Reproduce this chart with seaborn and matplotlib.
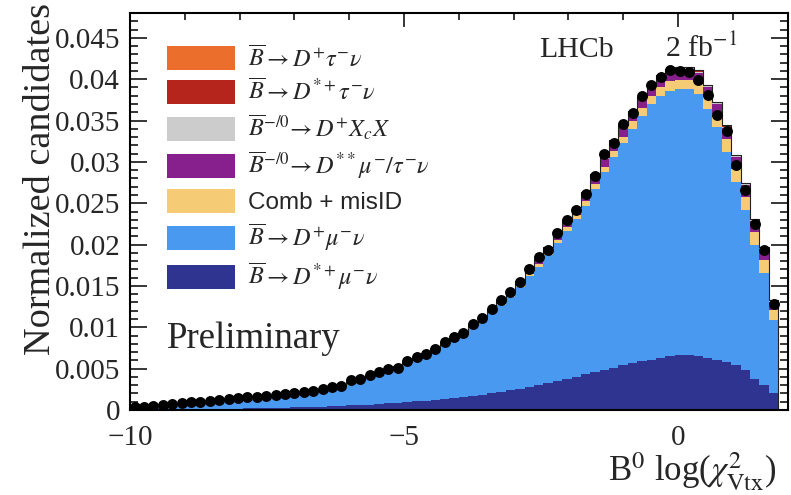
import numpy as np
import pandas as pd
import matplotlib
matplotlib.use("Agg")
import matplotlib.pyplot as plt
from matplotlib.patches import Patch
from matplotlib.ticker import MultipleLocator, FuncFormatter
import seaborn as sns

# Binning of B0 log(chi2_vtx): 70 bins from -10 to 2
x_low, x_high, n_bins = -10.0, 2.0, 70

# Normalized data yield per bin
data = [0.00033, 0.00033, 0.00048, 0.00060, 0.00069, 0.00081, 0.00093, 0.00100, 0.00109, 0.00121,
        0.00133, 0.00141, 0.00153, 0.00161, 0.00173, 0.00181, 0.00193, 0.00202, 0.00221, 0.00233,
        0.00250, 0.00274, 0.00290, 0.00362, 0.00371, 0.00423, 0.00463, 0.00492, 0.00504, 0.00595,
        0.00636, 0.00676, 0.00737, 0.00818, 0.00878, 0.00930, 0.01039, 0.01115, 0.01216, 0.01328,
        0.01421, 0.01542, 0.01699, 0.01844, 0.01932, 0.02144, 0.02295, 0.02424, 0.02609, 0.02832,
        0.03095, 0.03231, 0.03454, 0.03587, 0.03792, 0.03925, 0.04022, 0.04106, 0.04094, 0.04082,
        0.03985, 0.03804, 0.03563, 0.03376, 0.02965, 0.02665, 0.02252, 0.01932, 0.01277, 0.0]

# Fit components, bottom of the stack first
d_star_mu = [0.00003, 0.00004, 0.00005, 0.00006, 0.00007, 0.00008, 0.00010, 0.00011, 0.00012, 0.00014,
             0.00015, 0.00017, 0.00019, 0.00021, 0.00023, 0.00025, 0.00028, 0.00031, 0.00034, 0.00037,
             0.00041, 0.00045, 0.00050, 0.00055, 0.00060, 0.00066, 0.00072, 0.00079, 0.00086, 0.00094,
             0.00103, 0.00112, 0.00122, 0.00133, 0.00145, 0.00158, 0.00172, 0.00187, 0.00203, 0.00220,
             0.00238, 0.00258, 0.00280, 0.00303, 0.00328, 0.00352, 0.00378, 0.00403, 0.00430, 0.00455,
             0.00483, 0.00510, 0.00543, 0.00570, 0.00590, 0.00610, 0.00630, 0.00650, 0.00664, 0.00664,
             0.00650, 0.00630, 0.00604, 0.00575, 0.00543, 0.00480, 0.00380, 0.00300, 0.00200, 0.0]

d_mu = [0.00029, 0.00030, 0.00039, 0.00049, 0.00058, 0.00069, 0.00077, 0.00086, 0.00095, 0.00102,
        0.00112, 0.00119, 0.00127, 0.00135, 0.00142, 0.00151, 0.00158, 0.00167, 0.00177, 0.00189,
        0.00201, 0.00216, 0.00236, 0.00267, 0.00300, 0.00333, 0.00365, 0.00390, 0.00423, 0.00461,
        0.00506, 0.00546, 0.00593, 0.00646, 0.00696, 0.00754, 0.00818, 0.00891, 0.00967, 0.01047,
        0.01132, 0.01226, 0.01335, 0.01432, 0.01545, 0.01663, 0.01782, 0.01902, 0.02040, 0.02220,
        0.02392, 0.02550, 0.02682, 0.02825, 0.02965, 0.03085, 0.03165, 0.03213, 0.03215, 0.03214,
        0.03176, 0.03005, 0.02821, 0.02550, 0.02217, 0.01939, 0.01612, 0.01355, 0.00888, 0.0]

comb_misid = [0.4e-5, 0.7e-5, 0.7e-5, 0.7e-5, 1.1e-5, 1.1e-5, 1.4e-5, 1.4e-5, 1.4e-5, 1.8e-5,
              1.8e-5, 2.2e-5, 2.2e-5, 2.2e-5, 2.5e-5, 2.5e-5, 2.9e-5, 2.9e-5, 3.2e-5, 3.2e-5,
              3.6e-5, 4.0e-5, 4.3e-5, 4.7e-5, 5.4e-5, 5.8e-5, 6.5e-5, 6.8e-5, 7.6e-5, 8.3e-5,
              9.0e-5, 9.7e-5, 10.4e-5, 11.5e-5, 12.2e-5, 13.3e-5, 14.4e-5, 16.2e-5, 18.0e-5, 19.8e-5,
              21.6e-5, 25.2e-5, 28.8e-5, 32.4e-5, 36.0e-5, 41.4e-5, 46.8e-5, 52.2e-5, 57.6e-5, 63.0e-5,
              66.6e-5, 72.0e-5, 77.4e-5, 94.5e-5, 98.7e-5, 102.9e-5, 107.1e-5, 110.0e-5, 111.7e-5, 114.2e-5,
              117.6e-5, 145.0e-5, 152.5e-5, 157.5e-5, 160.0e-5, 161.0e-5, 159.0e-5, 159.0e-5, 120.0e-5, 0.0]

d_2star = [0.5e-5, 1.0e-5, 1.0e-5, 1.0e-5, 1.4e-5, 1.4e-5, 1.9e-5, 1.9e-5, 1.9e-5, 2.4e-5,
           2.4e-5, 2.9e-5, 2.9e-5, 2.9e-5, 3.4e-5, 3.4e-5, 3.8e-5, 3.8e-5, 4.3e-5, 4.3e-5,
           4.8e-5, 5.3e-5, 5.8e-5, 6.2e-5, 7.2e-5, 7.7e-5, 8.6e-5, 9.1e-5, 10.1e-5, 11.0e-5,
           12.0e-5, 13.0e-5, 13.9e-5, 15.4e-5, 16.3e-5, 17.8e-5, 19.2e-5, 21.6e-5, 24.0e-5, 26.4e-5,
           28.8e-5, 33.6e-5, 38.4e-5, 43.2e-5, 48.0e-5, 55.2e-5, 62.4e-5, 69.6e-5, 76.8e-5, 84.0e-5,
           88.8e-5, 96.0e-5, 103.2e-5, 103.5e-5, 108.1e-5, 112.7e-5, 117.3e-5, 120.5e-5, 122.4e-5, 125.1e-5,
           128.8e-5, 121.8e-5, 128.1e-5, 132.3e-5, 134.4e-5, 135.2e-5, 133.6e-5, 133.6e-5, 100.8e-5, 0.0]

d_xcx = [0.1e-5, 0.1e-5, 0.1e-5, 0.1e-5, 0.3e-5, 0.3e-5, 0.3e-5, 0.3e-5, 0.3e-5, 0.4e-5,
         0.4e-5, 0.5e-5, 0.5e-5, 0.5e-5, 0.6e-5, 0.6e-5, 0.6e-5, 0.6e-5, 0.7e-5, 0.7e-5,
         0.8e-5, 0.9e-5, 1.0e-5, 1.0e-5, 1.2e-5, 1.3e-5, 1.4e-5, 1.5e-5, 1.7e-5, 1.8e-5,
         2.0e-5, 2.2e-5, 2.3e-5, 2.6e-5, 2.7e-5, 3.0e-5, 3.2e-5, 3.6e-5, 4.0e-5, 4.4e-5,
         4.8e-5, 5.6e-5, 6.4e-5, 7.2e-5, 8.0e-5, 9.2e-5, 10.4e-5, 11.6e-5, 12.8e-5, 14.0e-5,
         14.8e-5, 16.0e-5, 17.2e-5, 13.5e-5, 14.1e-5, 14.7e-5, 15.3e-5, 15.7e-5, 16.0e-5, 16.3e-5,
         16.8e-5, 11.6e-5, 12.2e-5, 12.6e-5, 12.8e-5, 12.9e-5, 12.7e-5, 12.7e-5, 9.6e-5, 0.0]

d_star_tau = [0.0, 0.1e-5, 0.1e-5, 0.1e-5, 0.1e-5, 0.1e-5, 0.2e-5, 0.2e-5, 0.2e-5, 0.2e-5,
              0.2e-5, 0.2e-5, 0.2e-5, 0.2e-5, 0.3e-5, 0.3e-5, 0.4e-5, 0.4e-5, 0.4e-5, 0.4e-5,
              0.4e-5, 0.4e-5, 0.5e-5, 0.6e-5, 0.6e-5, 0.6e-5, 0.8e-5, 0.8e-5, 0.8e-5, 1.0e-5,
              1.0e-5, 1.1e-5, 1.2e-5, 1.3e-5, 1.4e-5, 1.5e-5, 1.6e-5, 1.8e-5, 2.0e-5, 2.2e-5,
              2.4e-5, 2.8e-5, 3.2e-5, 3.6e-5, 4.0e-5, 4.6e-5, 5.2e-5, 5.8e-5, 6.4e-5, 7.0e-5,
              7.4e-5, 8.0e-5, 8.6e-5, 6.8e-5, 7.1e-5, 7.4e-5, 7.7e-5, 7.9e-5, 8.0e-5, 8.2e-5,
              8.4e-5, 5.8e-5, 6.1e-5, 6.3e-5, 6.4e-5, 6.5e-5, 6.4e-5, 6.4e-5, 4.8e-5, 0.0]

d_tau = [0.0, 0.1e-5, 0.1e-5, 0.1e-5, 0.1e-5, 0.1e-5, 0.2e-5, 0.2e-5, 0.2e-5, 0.2e-5,
         0.2e-5, 0.2e-5, 0.2e-5, 0.2e-5, 0.2e-5, 0.2e-5, 0.3e-5, 0.3e-5, 0.4e-5, 0.4e-5,
         0.4e-5, 0.4e-5, 0.4e-5, 0.5e-5, 0.6e-5, 0.6e-5, 0.7e-5, 0.8e-5, 0.8e-5, 0.9e-5,
         1.0e-5, 1.0e-5, 1.2e-5, 1.2e-5, 1.4e-5, 1.4e-5, 1.6e-5, 1.8e-5, 2.0e-5, 2.2e-5,
         2.4e-5, 2.8e-5, 3.2e-5, 3.6e-5, 4.0e-5, 4.6e-5, 5.2e-5, 5.8e-5, 6.4e-5, 7.0e-5,
         7.4e-5, 8.0e-5, 8.6e-5, 6.8e-5, 7.1e-5, 7.4e-5, 7.7e-5, 7.9e-5, 8.0e-5, 8.2e-5,
         8.4e-5, 5.8e-5, 6.1e-5, 6.3e-5, 6.4e-5, 6.5e-5, 6.4e-5, 6.4e-5, 4.8e-5, 0.0]

# Legend order = top of stack first
comp_keys = ["dtau", "dstartau", "dxcx", "d2star", "comb", "dmu", "dstarmu"]
comp_values = [d_tau, d_star_tau, d_xcx, d_2star, comb_misid, d_mu, d_star_mu]
comp_labels = [r"$\overline{B}\rightarrow D^{+}\tau^{-}\nu$",
               r"$\overline{B}\rightarrow D^{*+}\tau^{-}\nu$",
               r"$\overline{B}^{-/0}\!\rightarrow D^{+}X_{c}X$",
               r"$\overline{B}^{-/0}\!\rightarrow D^{**}\mu^{-}/\tau^{-}\nu$",
               "Comb + misID",
               r"$\overline{B}\rightarrow D^{+}\mu^{-}\nu$",
               r"$\overline{B}\rightarrow D^{*+}\mu^{-}\nu$"]
comp_colors = ["#EB6E2D", "#B5251B", "#CCCCCC", "#871F8C", "#F6CB75", "#4A99F0", "#2F3490"]

sns.set_style("ticks")
plt.rcParams["font.family"] = ["Liberation Serif", "DejaVu Serif"]
plt.rcParams["mathtext.fontset"] = "stix"

edges = np.linspace(x_low, x_high, n_bins + 1)
centers = 0.5 * (edges[:-1] + edges[1:])

df = pd.concat([pd.DataFrame({"x": centers, "w": vals, "comp": key})
                for key, vals in zip(comp_keys, comp_values)], ignore_index=True)
palette = dict(zip(comp_keys, comp_colors))

fig = plt.figure(figsize=(7.91, 4.95), dpi=100)
ax = fig.add_axes([0.1643, 0.1717, 0.8314, 0.8020])

# stacked fit templates
sns.histplot(data=df, x="x", weights="w", hue="comp", hue_order=comp_keys, palette=palette,
             multiple="stack", bins=n_bins, binrange=(x_low, x_high), element="step",
             fill=True, alpha=1.0, linewidth=0, legend=False, ax=ax)
# outline of the total fit
sns.histplot(data=df, x="x", weights="w", bins=n_bins, binrange=(x_low, x_high),
             element="step", fill=False, color="#222222", linewidth=0.8, ax=ax)
# data points
pts = pd.DataFrame({"x": centers, "y": data})
pts = pts[pts["y"] > 0]
sns.scatterplot(data=pts, x="x", y="y", color="black", s=62, linewidth=0, ax=ax, zorder=5)

ax.set_xlim(x_low, x_high)
ax.set_ylim(0, 0.048)
ax.xaxis.set_major_locator(MultipleLocator(5))
ax.xaxis.set_minor_locator(MultipleLocator(1))
ax.yaxis.set_major_locator(MultipleLocator(0.005))
ax.yaxis.set_minor_locator(MultipleLocator(0.001))
ax.yaxis.set_major_formatter(FuncFormatter(lambda v, p: f"{v:g}"))
ax.tick_params(which="both", direction="in", top=True, right=True, width=1.1,
               color="black", labelsize=21)
ax.tick_params(axis="x", which="major", length=10, pad=10.5)
ax.tick_params(axis="x", which="minor", length=5)
ax.tick_params(axis="y", which="major", length=12, pad=7)
ax.tick_params(axis="y", which="minor", length=6)
for sp in ax.spines.values():
    sp.set_linewidth(1.5)
    sp.set_color("black")

ax.set_xlabel(r"B$^{0}$ log($\chi^{2}_{\mathrm{Vtx}}$)", fontsize=25, loc="right")
ax.xaxis.set_label_coords(0.982, -0.103)
ax.set_ylabel("Normalized candidates", fontsize=27.5, loc="top")
ax.yaxis.set_label_coords(-0.11, 1.025)

ax.text(0.6225, 0.889, "LHCb", transform=ax.transAxes, fontsize=21.5, va="baseline")
ax.text(0.8136, 0.889, r"2 fb$^{-1}$", transform=ax.transAxes, fontsize=21.5, va="baseline")
ax.text(0.0558, 0.155, "Preliminary", transform=ax.transAxes, fontsize=26.5, va="baseline")

handles = [Patch(facecolor=c, edgecolor="none", label=l) for c, l in zip(comp_colors, comp_labels)]
ax.legend(handles=handles, loc="upper left", bbox_to_anchor=(0.0558, 0.918), frameon=False,
          prop={"family": "Liberation Sans", "size": 17.5}, handlelength=2.83, handleheight=1.15,
          handletextpad=0.5, labelspacing=0.32, borderpad=0, borderaxespad=0)

fig.savefig("out.png", dpi=100)
